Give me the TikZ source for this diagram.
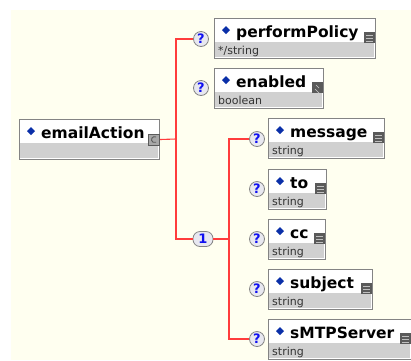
\documentclass[tikz,border=0pt]{standalone}
\usepackage{fontspec}
\setmainfont{DejaVu Sans}
\definecolor{bgivory}{HTML}{FFFFF0}
\definecolor{boxgray}{HTML}{848484}
\definecolor{typegray}{HTML}{D0D0D0}
\definecolor{linkred}{HTML}{FF3C3C}
\definecolor{diamondblue}{HTML}{0A2FA8}
\definecolor{markblue}{HTML}{1010F0}
\definecolor{badgefill}{HTML}{E8E8F0}
\definecolor{icondark}{HTML}{5A5A5A}
\tikzset{
  elembox/.style={draw=boxgray, fill=white, line width=1pt, inner sep=0pt,
    minimum height=40pt, anchor=north west,
    path picture={\fill[typegray] ([yshift=-23pt]path picture bounding box.north west)
      rectangle ([xshift=-1.5pt,yshift=1.5pt]path picture bounding box.south east);}},
  namefont/.style={font=\bfseries\fontsize{15.5}{18}\selectfont, inner sep=0pt, anchor=base west},
  typefont/.style={font=\fontsize{11}{13}\selectfont, text=black!80, inner sep=0pt, anchor=base west},
  optbadge/.style={circle, draw=boxgray, fill=badgefill, line width=0.8pt,
    minimum size=15pt, inner sep=0pt, text=markblue,
    font=\bfseries\fontsize{13}{13}\selectfont},
  seqbadge/.style={rounded corners=7pt, draw=boxgray, fill=badgefill, line width=0.8pt,
    minimum width=20pt, minimum height=15pt, inner sep=0pt, text=markblue,
    font=\bfseries\fontsize{13}{13}\selectfont},
  conn/.style={draw=linkred, line width=1.1pt}
}
% element box: #1 id, #2 left, #3 top, #4 width, #5 name, #6 type
\newcommand\xsdelem[6]{%
  \node[elembox, minimum width=#4pt] (#1) at (#2,#3) {};
  \fill[diamondblue] ([xshift=8pt,yshift=-12pt]#1.north west) -- ++(4,-4) -- ++(4,4) -- ++(-4,4) -- cycle;
  \node[namefont] (#1name) at ([xshift=22pt,yshift=-19pt]#1.north west) {#5};
  \node[typefont] (#1type) at ([xshift=4pt,yshift=-36pt]#1.north west) {#6};
}
% simple-type icon (dark square with text lines)
\newcommand\xsdstringicon[1]{%
  \fill[icondark] ([xshift=-12pt,yshift=-14pt]#1.north east) rectangle ++(11,11);
  \foreach \k in {3,6,9}
    \draw[white!75!black, line width=0.8pt] ([xshift=-10pt,yshift=-14pt-\k pt]#1.north east) -- ++(7,0);
}
\begin{document}
\begin{tikzpicture}[x=1pt,y=-1pt]
\useasboundingbox (0,0) rectangle (411,360);
\fill[white] (0,0) rectangle (411,360);
\fill[bgivory] (11,10) rectangle (411,360);

% root element
\xsdelem{ea}{19}{119}{140}{emailAction}{}
\fill[typegray!80!black] ([xshift=-12pt,yshift=-15pt]ea.north east) rectangle ++(11,11);
\draw[icondark, line width=0.8pt] ([xshift=-12pt,yshift=-15pt]ea.north east) rectangle ++(11,11);
\draw[icondark, line width=0.9pt] ([xshift=-4pt,yshift=-18pt]ea.north east) arc[start angle=60, end angle=300, radius=3pt];

% direct children
\xsdelem{pp}{214}{18}{161}{performPolicy}{*/string}
\xsdstringicon{pp}
\xsdelem{en}{214}{68}{109}{enabled}{boolean}
\fill[icondark] ([xshift=-12pt,yshift=-14pt]en.north east) rectangle ++(11,11);
\draw[white!80!black, line width=0.7pt] ([xshift=-9pt,yshift=-21pt]en.north east) -- ++(4,4)
  ([xshift=-5pt,yshift=-20pt]en.north east) -- ++(-3,-3);

% sequence members
\xsdelem{msg}{268}{118}{116}{message}{string}
\xsdstringicon{msg}
\xsdelem{to}{268}{169}{58}{to}{string}
\xsdstringicon{to}
\xsdelem{cc}{268}{219}{57}{cc}{string}
\xsdstringicon{cc}
\xsdelem{sub}{268}{269}{104}{subject}{string}
\xsdstringicon{sub}
\xsdelem{smtp}{268}{319}{143}{sMTPServer}{string}
\xsdstringicon{smtp}

% occurrence badges
\node[optbadge] (qpp) at (201,39) {?};
\node[optbadge] (qen) at (201,88) {?};
\node[seqbadge] (seq) at (203,239) {1};
\node[optbadge] (qmsg) at (257,139) {?};
\node[optbadge] (qto) at (257,189) {?};
\node[optbadge] (qcc) at (257,239) {?};
\node[optbadge] (qsub) at (257,289) {?};
\node[optbadge] (qsmtp) at (257,339) {?};

% connectors
\coordinate (j1) at (176,139);
\coordinate (j2) at (229,239);
\draw[conn] (ea.east) -- (j1);
\draw[conn] (qpp.west) -| (j1) |- (seq.west);
\draw[conn] (seq.east) -- (j2);
\draw[conn] (qmsg.west) -| (j2);
\draw[conn] (qsmtp.west) -| (j2);
\end{tikzpicture}
\end{document}
